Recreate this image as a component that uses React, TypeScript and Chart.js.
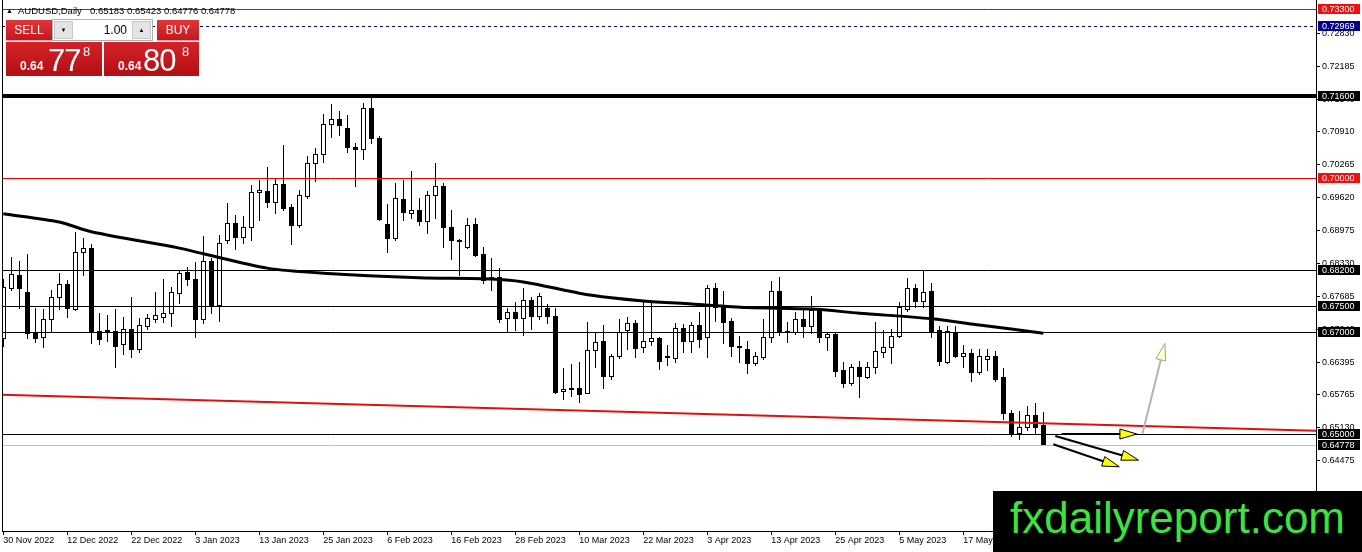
import React, { useEffect, useRef } from "react";
import { Chart, registerables } from "chart.js";

Chart.register(...registerables);

// ---------------- DATA ----------------
const dateLabels = [
  "30 Nov 2022", "12 Dec 2022", "22 Dec 2022", "3 Jan 2023", "13 Jan 2023",
  "25 Jan 2023", "6 Feb 2023", "16 Feb 2023", "28 Feb 2023", "10 Mar 2023",
  "22 Mar 2023", "3 Apr 2023", "13 Apr 2023", "25 Apr 2023", "5 May 2023", "17 May 2023",
];
const LABEL_STEP = 8; // bars between two date labels

const opens = [
  0.6687, 0.6785, 0.6811, 0.6777, 0.6698, 0.6689, 0.6724, 0.6768, 0.6792, 0.6744,
  0.6855, 0.6863, 0.6701, 0.6703, 0.6701, 0.6675, 0.6706, 0.6667, 0.6711, 0.6724,
  0.6729, 0.6736, 0.6775, 0.6817, 0.6803, 0.6725, 0.6837, 0.6751, 0.6879, 0.6912,
  0.6884, 0.6904, 0.6972, 0.6975, 0.6954, 0.6988, 0.6943, 0.6909, 0.6965, 0.7029,
  0.7046, 0.7105, 0.7115, 0.7097, 0.7060, 0.7056, 0.7136, 0.7078, 0.6910, 0.6882,
  0.6958, 0.6931, 0.6938, 0.6916, 0.6966, 0.6985, 0.6904, 0.6878, 0.6866, 0.6910,
  0.6852, 0.6803, 0.6807, 0.6727, 0.6738, 0.6727, 0.6762, 0.6730, 0.6746, 0.6730,
  0.6584, 0.6590, 0.6590, 0.6581, 0.6665, 0.6682, 0.6614, 0.6653, 0.6704, 0.6716,
  0.6669, 0.6682, 0.6687, 0.6652, 0.6649, 0.6708, 0.6682, 0.6713, 0.6690, 0.6785,
  0.6749, 0.6721, 0.6672, 0.6667, 0.6639, 0.6650, 0.6690, 0.6780, 0.6701, 0.6700,
  0.6724, 0.6711, 0.6742, 0.6690, 0.6695, 0.6625, 0.6599, 0.6630, 0.6612, 0.6630,
  0.6661, 0.6669, 0.6692, 0.6744, 0.6785, 0.6760, 0.6779, 0.6703, 0.6640, 0.6700,
  0.6653, 0.6658, 0.6621, 0.6646, 0.6652, 0.6612, 0.6542, 0.6502, 0.6513, 0.6537,
  0.65183,
];
const highs = [
  0.6803, 0.6845, 0.6838, 0.6852, 0.6747, 0.6744, 0.6781, 0.6814, 0.6801, 0.6894,
  0.6882, 0.6871, 0.6736, 0.6732, 0.6744, 0.6728, 0.6767, 0.6726, 0.6734, 0.6777,
  0.6803, 0.6788, 0.6820, 0.6826, 0.6835, 0.6887, 0.6844, 0.6889, 0.6951, 0.6928,
  0.6926, 0.6986, 0.6996, 0.7021, 0.6999, 0.7064, 0.6949, 0.6977, 0.7042, 0.7058,
  0.7125, 0.7144, 0.7130, 0.7123, 0.7068, 0.7146, 0.7159, 0.7082, 0.6949, 0.6990,
  0.6997, 0.7014, 0.6960, 0.6975, 0.7030, 0.6990, 0.6938, 0.6880, 0.6922, 0.6922,
  0.6866, 0.6844, 0.6824, 0.6746, 0.6757, 0.6785, 0.6767, 0.6775, 0.6753, 0.6746,
  0.6628, 0.6637, 0.6640, 0.6718, 0.6698, 0.6713, 0.6656, 0.6724, 0.6729, 0.6723,
  0.6760, 0.6758, 0.6690, 0.6674, 0.6716, 0.6714, 0.6719, 0.6738, 0.6791, 0.6794,
  0.6780, 0.6726, 0.6691, 0.6682, 0.6661, 0.6724, 0.6798, 0.6806, 0.6719, 0.6739,
  0.6742, 0.6769, 0.6746, 0.6699, 0.6697, 0.6641, 0.6636, 0.6643, 0.6641, 0.6719,
  0.6704, 0.6706, 0.6758, 0.6805, 0.6793, 0.6820, 0.6795, 0.6710, 0.6710, 0.6710,
  0.6674, 0.6667, 0.6667, 0.6667, 0.6663, 0.6628, 0.6547, 0.6544, 0.6555, 0.6560,
  0.65423,
];
const lows = [
  0.6671, 0.6781, 0.6746, 0.6687, 0.6680, 0.6669, 0.6700, 0.6744, 0.6729, 0.6742,
  0.6811, 0.6677, 0.6675, 0.6682, 0.6630, 0.6657, 0.6650, 0.6661, 0.6706, 0.6719,
  0.6719, 0.6710, 0.6755, 0.6791, 0.6689, 0.6716, 0.6736, 0.6721, 0.6874, 0.6861,
  0.6874, 0.6879, 0.6917, 0.6943, 0.6931, 0.6938, 0.6871, 0.6905, 0.6960, 0.6995,
  0.7032, 0.7081, 0.7084, 0.7051, 0.6984, 0.7038, 0.7069, 0.6918, 0.6856, 0.6879,
  0.6918, 0.6921, 0.6908, 0.6892, 0.6922, 0.6866, 0.6841, 0.6811, 0.6863, 0.6848,
  0.6795, 0.6781, 0.6718, 0.6700, 0.6704, 0.6693, 0.6706, 0.6724, 0.6716, 0.6580,
  0.6568, 0.6574, 0.6563, 0.6581, 0.6631, 0.6589, 0.6607, 0.6649, 0.6666, 0.6650,
  0.6661, 0.6673, 0.6626, 0.6635, 0.6641, 0.6661, 0.6661, 0.6669, 0.6650, 0.6721,
  0.6677, 0.6652, 0.6641, 0.6620, 0.6635, 0.6646, 0.6680, 0.6693, 0.6680, 0.6695,
  0.6690, 0.6697, 0.6679, 0.6665, 0.6613, 0.6591, 0.6596, 0.6573, 0.6609, 0.6620,
  0.6650, 0.6639, 0.6690, 0.6741, 0.6748, 0.6748, 0.6689, 0.6635, 0.6638, 0.6650,
  0.6630, 0.6604, 0.6618, 0.6625, 0.6604, 0.6529, 0.6497, 0.6491, 0.6508, 0.6501,
  0.64776,
];
const closes = [
  0.6787, 0.6813, 0.6785, 0.6697, 0.6687, 0.6724, 0.6768, 0.6792, 0.6746, 0.6855,
  0.6863, 0.6702, 0.6685, 0.6699, 0.6672, 0.6706, 0.6667, 0.6712, 0.6726, 0.6732,
  0.6736, 0.6777, 0.6814, 0.6803, 0.6725, 0.6837, 0.6751, 0.6874, 0.6912, 0.6885,
  0.6904, 0.6972, 0.6977, 0.6954, 0.6988, 0.6942, 0.6909, 0.6967, 0.7029, 0.7046,
  0.7105, 0.7115, 0.7104, 0.7060, 0.7056, 0.7136, 0.7078, 0.6920, 0.6882, 0.6960,
  0.6933, 0.6938, 0.6916, 0.6966, 0.6985, 0.6904, 0.6878, 0.6877, 0.6908, 0.6850,
  0.6801, 0.6807, 0.6725, 0.6738, 0.6727, 0.6762, 0.6730, 0.6769, 0.6730, 0.6583,
  0.6588, 0.6587, 0.6578, 0.6665, 0.6679, 0.6614, 0.6653, 0.6699, 0.6716, 0.6668,
  0.6682, 0.6687, 0.6643, 0.6651, 0.6708, 0.6682, 0.6713, 0.6685, 0.6785, 0.6749,
  0.6719, 0.6671, 0.6670, 0.6639, 0.6652, 0.6690, 0.6780, 0.6701, 0.6699, 0.6724,
  0.6711, 0.6742, 0.6690, 0.6695, 0.6624, 0.6599, 0.6630, 0.6613, 0.6630, 0.6662,
  0.6669, 0.6692, 0.6749, 0.6785, 0.6760, 0.6778, 0.6702, 0.6643, 0.6701, 0.6652,
  0.6658, 0.6621, 0.6652, 0.6652, 0.6607, 0.6542, 0.6501, 0.6513, 0.6537, 0.6514,
  0.64778,
];

// moving average (thick black line), sampled at bar indices
const maIndex = [0, 7, 11, 22, 25, 33, 40, 52, 60, 65, 72, 76, 80, 86, 93, 101, 107, 116, 122, 130];
const maValues = [
  0.6930, 0.6914, 0.6895, 0.6863, 0.6852, 0.6824, 0.6814, 0.6805, 0.6803, 0.6797,
  0.6775, 0.6766, 0.6760, 0.6754, 0.6747, 0.6744, 0.6736, 0.6725, 0.6713, 0.6697,
];

// red trend line
const trendIndex = [-1, 165];
const trendValues = [0.6577, 0.6506];

// horizontal levels
const levels = [0.733, 0.72969, 0.716, 0.7, 0.682, 0.675, 0.67, 0.65, 0.64778];

// price axis tick labels
const priceTicks = [
  0.7283, 0.72185, 0.7154, 0.7091, 0.70265, 0.6962, 0.68975, 0.6833,
  0.67685, 0.6704, 0.66395, 0.65765, 0.6513, 0.64475,
];

// arrows (bar index, price)
const arrowFromIdx = [132.3, 131.5, 131.25, 142.4];
const arrowFromPrice = [0.65, 0.6496, 0.648, 0.6501];
const arrowToIdx = [141.7, 141.9, 139.5, 145.2];
const arrowToPrice = [0.65, 0.6449, 0.6436, 0.6677];

// ---------------- STYLE ----------------
const FONT = '"Liberation Sans", Arial, sans-serif';
const X_MIN = -0.1625;
const X_MAX = 164.0875;
const Y_MAX = 0.73476;
const Y_MIN = 0.63106;

const LEVEL_STYLE: Record<string, { color: string; width: number; dash: number[]; box: string }> = {
  red: { color: "#f00000", width: 1, dash: [], box: "#ee1111" },
  dash: { color: "#000080", width: 1, dash: [3, 3], box: "#000088" },
  thick: { color: "#000000", width: 4, dash: [], box: "#000000" },
  thin: { color: "#000000", width: 1, dash: [], box: "#000000" },
  bid: { color: "#c0c0c0", width: 1, dash: [], box: "#000000" },
};
const levelStyleKeys = ["red", "dash", "thick", "red", "thin", "thin", "thin", "thin", "bid"];
const arrowStyles = [
  { line: "#000000", fill: "#ffff00", edge: "#000000" },
  { line: "#000000", fill: "#ffff00", edge: "#000000" },
  { line: "#000000", fill: "#ffff00", edge: "#000000" },
  { line: "#b4b4b4", fill: "#ffffc8", edge: "#a0a0a0" },
];

function crisp(v: number) {
  return Math.round(v) + 0.5;
}

function noPadding(s: any) {
  s.paddingTop = 0;
  s.paddingBottom = 0;
  s.paddingLeft = 0;
  s.paddingRight = 0;
}

const candlePlugin = {
  id: "candles",
  beforeDatasetsDraw(chart: any) {
    const { ctx, chartArea: a, scales } = chart;
    const xs = scales.x;
    const ys = scales.y;
    ctx.save();
    ctx.beginPath();
    ctx.rect(a.left, a.top, a.right - a.left, a.bottom - a.top);
    ctx.clip();
    ctx.lineWidth = 1;
    ctx.strokeStyle = "#000";
    for (let i = 0; i < opens.length; i++) {
      const xc = Math.round(xs.getPixelForValue(i));
      const yo = Math.round(ys.getPixelForValue(opens[i]));
      const yc = Math.round(ys.getPixelForValue(closes[i]));
      const yh = Math.round(ys.getPixelForValue(highs[i]));
      const yl = Math.round(ys.getPixelForValue(lows[i]));
      ctx.beginPath();
      ctx.moveTo(xc + 0.5, yh);
      ctx.lineTo(xc + 0.5, yl + 1);
      ctx.stroke();
      const top = Math.min(yo, yc);
      const bot = Math.max(yo, yc);
      if (closes[i] >= opens[i]) {
        ctx.fillStyle = "#fff";
        ctx.fillRect(xc - 2, top, 5, bot - top + 1);
        ctx.strokeRect(xc - 2 + 0.5, top + 0.5, 4, bot - top);
      } else {
        ctx.fillStyle = "#000";
        ctx.fillRect(xc - 2, top, 5, bot - top + 1);
      }
    }
    ctx.restore();
  },
  afterDatasetsDraw(chart: any) {
    const { ctx, chartArea: a, scales } = chart;
    const ys = scales.y;
    ctx.save();
    ctx.beginPath();
    ctx.rect(a.left, a.top, a.right - a.left, a.bottom - a.top);
    ctx.clip();
    levels.forEach((lv, k) => {
      const st = LEVEL_STYLE[levelStyleKeys[k]];
      const y = st.width % 2 === 1 ? crisp(ys.getPixelForValue(lv)) : Math.round(ys.getPixelForValue(lv));
      ctx.strokeStyle = st.color;
      ctx.lineWidth = st.width;
      ctx.setLineDash(st.dash);
      ctx.beginPath();
      ctx.moveTo(a.left, y);
      ctx.lineTo(a.right, y);
      ctx.stroke();
    });
    ctx.setLineDash([]);
    ctx.restore();
  },
  afterDraw(chart: any) {
    const { ctx, chartArea: a, scales } = chart;
    const xs = scales.x;
    const ys = scales.y;
    // left frame
    ctx.save();
    ctx.strokeStyle = "#000";
    ctx.lineWidth = 1;
    ctx.beginPath();
    ctx.moveTo(crisp(a.left), 0);
    ctx.lineTo(crisp(a.left), a.bottom);
    ctx.stroke();

    // arrows
    for (let k = 0; k < arrowFromIdx.length; k++) {
      const x1 = xs.getPixelForValue(arrowFromIdx[k]);
      const y1 = ys.getPixelForValue(arrowFromPrice[k]);
      const x2 = xs.getPixelForValue(arrowToIdx[k]);
      const y2 = ys.getPixelForValue(arrowToPrice[k]);
      const st = arrowStyles[k];
      const ang = Math.atan2(y2 - y1, x2 - x1);
      const L = 17;
      const W = 5;
      const c = Math.cos(ang);
      const s = Math.sin(ang);
      const bx = x2 - L * c;
      const by = y2 - L * s;
      ctx.strokeStyle = st.line;
      ctx.lineWidth = 2;
      ctx.beginPath();
      ctx.moveTo(x1, y1);
      ctx.lineTo(x2 - 4 * c, y2 - 4 * s);
      ctx.stroke();
      ctx.beginPath();
      ctx.moveTo(x2, y2);
      ctx.lineTo(bx - W * s, by + W * c);
      ctx.lineTo(bx + W * s, by - W * c);
      ctx.closePath();
      ctx.fillStyle = st.fill;
      ctx.fill();
      ctx.strokeStyle = st.edge;
      ctx.lineWidth = 1;
      ctx.stroke();
    }

    // price boxes on the axis
    ctx.font = `9px ${FONT}`;
    ctx.textBaseline = "middle";
    ctx.textAlign = "left";
    levels.forEach((lv, k) => {
      const st = LEVEL_STYLE[levelStyleKeys[k]];
      const y = Math.round(ys.getPixelForValue(lv));
      ctx.fillStyle = st.box;
      ctx.fillRect(a.right + 2, y - 5, 42, 10);
      ctx.fillStyle = "#fff";
      ctx.fillText(lv.toFixed(5), a.right + 6, y + 0.5);
    });
    ctx.restore();
  },
};

function buildConfig(): any {
  return {
    type: "line",
    data: {
      datasets: [
        {
          data: maIndex.map((v, i) => ({ x: v, y: maValues[i] })),
          borderColor: "#000",
          borderWidth: 3,
          pointRadius: 0,
          tension: 0.3,
          fill: false,
        },
        {
          data: trendIndex.map((v, i) => ({ x: v, y: trendValues[i] })),
          borderColor: "#e01010",
          borderWidth: 2,
          pointRadius: 0,
          fill: false,
        },
      ],
    },
    options: {
      responsive: false,
      maintainAspectRatio: false,
      animation: false,
      events: [],
      layout: { padding: { left: 2, right: 0, top: 0, bottom: 0 } },
      plugins: { legend: { display: false }, tooltip: { enabled: false } },
      scales: {
        x: {
          type: "linear",
          min: X_MIN,
          max: X_MAX,
          afterFit: (s: any) => {
            s.height = 21;
            noPadding(s);
          },
          afterBuildTicks: (s: any) => {
            s.ticks = dateLabels.map((_, k) => ({ value: k * LABEL_STEP }));
          },
          ticks: {
            autoSkip: false,
            maxRotation: 0,
            minRotation: 0,
            align: "start",
            padding: 0,
            color: "#000",
            font: { family: FONT, size: 9 },
            callback: (_v: any, i: number) => dateLabels[i],
          },
          grid: { drawOnChartArea: false, drawTicks: true, tickLength: 4, color: "#000" },
          border: { display: true, color: "#000", width: 1 },
        },
        y: {
          type: "linear",
          position: "right",
          min: Y_MIN,
          max: Y_MAX,
          afterFit: (s: any) => {
            s.width = 46;
            noPadding(s);
          },
          afterBuildTicks: (s: any) => {
            s.ticks = priceTicks.map((v) => ({ value: v }));
          },
          ticks: {
            autoSkip: false,
            padding: 2,
            color: "#000",
            font: { family: FONT, size: 9 },
            callback: (v: any) => Number(v).toFixed(5),
          },
          grid: { drawOnChartArea: false, drawTicks: true, tickLength: 4, color: "#000" },
          border: { display: true, color: "#000", width: 1 },
        },
      },
    },
    plugins: [candlePlugin],
  };
}

const btnRed = "linear-gradient(#e2363a, #c2181d)";
const boxRed = "linear-gradient(#d4232a, #b20e14)";

function PriceBox(props: { left: number; width: number; big: string; x1: number; x2: number; x3: number }) {
  return (
    <div
      style={{
        position: "absolute",
        left: props.left,
        top: 42,
        width: props.width,
        height: 34,
        background: boxRed,
        color: "#fff",
        fontFamily: FONT,
      }}
    >
      <span style={{ position: "absolute", left: props.x1, top: 18, fontSize: 12, fontWeight: "bold", lineHeight: "12px" }}>0.64</span>
      <span style={{ position: "absolute", left: props.x2, top: 3, fontSize: 31, lineHeight: "31px", letterSpacing: -1 }}>{props.big}</span>
      <span style={{ position: "absolute", left: props.x3, top: 3, fontSize: 13, lineHeight: "13px" }}>8</span>
    </div>
  );
}

export default function App() {
  const ref = useRef<HTMLCanvasElement>(null);
  useEffect(() => {
    if (!ref.current) return;
    const chart = new Chart(ref.current, buildConfig());
    return () => chart.destroy();
  }, []);
  return (
    <div
      style={{
        position: "fixed",
        left: 0,
        top: 0,
        width: 1362,
        height: 552,
        background: "#fff",
        overflow: "hidden",
        fontFamily: FONT,
      }}
    >
      <canvas ref={ref} width={1362} height={552} style={{ position: "absolute", left: 0, top: 0, width: 1362, height: 552 }} />

      {/* header */}
      <span style={{ position: "absolute", left: 6, top: 7, fontSize: 7, lineHeight: "7px", color: "#000" }}>▲</span>
      <span style={{ position: "absolute", left: 18, top: 6, fontSize: 9.5, lineHeight: "9.5px", color: "#000", whiteSpace: "pre" }}>AUDUSD,Daily</span>
      <span style={{ position: "absolute", left: 90, top: 6, fontSize: 9.5, lineHeight: "9.5px", color: "#000", whiteSpace: "pre" }}>0.65183 0.65423 0.64776 0.64778</span>

      {/* one-click trading panel */}
      <div style={{ position: "absolute", left: 6, top: 20, width: 46, height: 21, background: btnRed, color: "#fff", fontSize: 12, lineHeight: "20px", textAlign: "center", borderBottom: "1px solid #f0a0a0", boxSizing: "border-box" }}>SELL</div>
      <div style={{ position: "absolute", left: 52, top: 19, width: 101, height: 22, background: "#fff", border: "1px solid #b0b0b0", boxSizing: "border-box" }}>
        <div style={{ position: "absolute", left: 1, top: 1, width: 19, height: 18, background: "#e4e4e4", border: "1px solid #c8c8c8", boxSizing: "border-box", fontSize: 6, lineHeight: "16px", textAlign: "center", color: "#000" }}>▼</div>
        <div style={{ position: "absolute", right: 25, top: 2, fontSize: 12, lineHeight: "16px", color: "#000" }}>1.00</div>
        <div style={{ position: "absolute", right: 1, top: 1, width: 19, height: 18, background: "#e4e4e4", border: "1px solid #c8c8c8", boxSizing: "border-box", fontSize: 6, lineHeight: "16px", textAlign: "center", color: "#000" }}>▲</div>
      </div>
      <div style={{ position: "absolute", left: 157, top: 20, width: 42, height: 21, background: btnRed, color: "#fff", fontSize: 12, lineHeight: "20px", textAlign: "center", borderBottom: "1px solid #f0a0a0", boxSizing: "border-box" }}>BUY</div>
      <PriceBox left={6} width={96} big="77" x1={14} x2={42} x3={77} />
      <PriceBox left={104} width={95} big="80" x1={14} x2={39} x3={78} />

      {/* watermark */}
      <div style={{ position: "absolute", left: 993, top: 491, width: 369, height: 61, background: "#000" }}>
        <span style={{ position: "absolute", left: 17, top: 5, fontSize: 44, lineHeight: "44px", color: "#3ee23e", whiteSpace: "pre" }}>fxdailyreport.com</span>
      </div>
    </div>
  );
}
